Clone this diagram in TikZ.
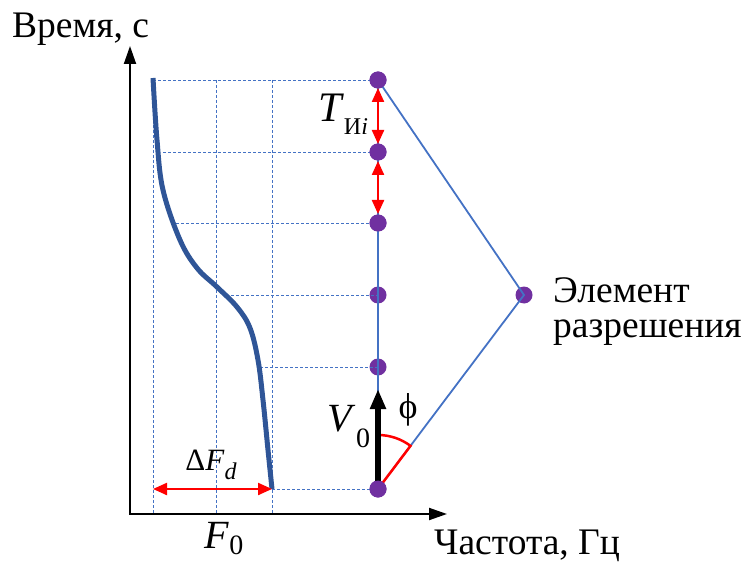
\documentclass[tikz,border=0pt]{standalone}
\usepackage{fontspec}
\setmainfont{Liberation Serif}
\usetikzlibrary{arrows.meta}
\definecolor{lblue}{HTML}{4472C4}
\definecolor{dblue}{HTML}{2F5597}
\definecolor{dotc}{HTML}{7030A0}
\begin{document}
\begin{tikzpicture}[x=1pt,y=-1pt,
  grid/.style={lblue, line width=0.7pt, dash pattern=on 3pt off 2pt},
  dotn/.style={circle, fill=dotc, inner sep=0pt, minimum size=17pt},
  redarr/.style={red, line width=2.2pt, {Triangle[length=14pt,width=12pt]}-{Triangle[length=14pt,width=12pt]}},
  lbl/.style={inner sep=0pt, font=\fontsize{37.5}{37.5}\selectfont},
  axis/.style={black, line width=2pt, -{Triangle[length=18pt,width=12pt]}}]
\useasboundingbox (0,0) rectangle (744,564);
% grid verticals
\coordinate (g1t) at (153,80); \coordinate (g1b) at (153,514);
\coordinate (g2t) at (216,80); \coordinate (g2b) at (216,514);
\coordinate (g3t) at (272,80); \coordinate (g3b) at (272,514);
\draw[grid] (g1t) -- (g1b);
\draw[grid] (g2t) -- (g2b);
\draw[grid] (g3t) -- (g3b);
% dots
\node[dotn] (d1) at (378,80) {};
\node[dotn] (d2) at (378,152) {};
\node[dotn] (d3) at (378,223) {};
\node[dotn] (d4) at (378,295) {};
\node[dotn] (d5) at (378,367) {};
\node[dotn] (d6) at (378,489) {};
\node[dotn] (de) at (524,295) {};
% curve anchor points
\coordinate (c1) at (153,80);
\coordinate (c2) at (163,152);
\coordinate (c3) at (176,223);
\coordinate (c4) at (231,295);
\coordinate (c5) at (260,367);
\coordinate (c6) at (272,489);
% horizontal grid
\draw[grid] (c1) -- (d1.center);
\draw[grid] (c2) -- (d2.center);
\draw[grid] (c3) -- (d3.center);
\draw[grid] (c4) -- (d4.center);
\draw[grid] (c5) -- (d5.center);
\draw[grid] (c6) -- (d6.center);
% axes
\coordinate (o) at (130,514);
\coordinate (ytip) at (130,46);
\coordinate (xtip) at (447,514);
\draw[axis] (o) -- (ytip);
\draw[axis] ([xshift=-1pt]o) -- (xtip);
% curve
\draw[dblue, line width=5pt, line cap=butt] plot[smooth, tension=0.6] coordinates {(153,78) (157,140) (163,190) (180,240) (197,268) (217,287) (237,307) (250,328) (258,360) (263,400) (268,450) (272,489)};
% blue lines
\draw[lblue, line width=1.8pt] (d1.center) -- (d6.center);
\draw[lblue, line width=1.8pt] (d1.center) -- (de.center) -- (d6.center);
% phi sector
\draw[red, line width=2.5pt] (d6.center) -- ++(-53.0:54) arc[start angle=-53, end angle=-90, radius=54];
% V0 arrow
\coordinate (vtip) at (378,389);
\draw[black, line width=5.5pt, -{Triangle[length=20pt,width=15pt]}] (d6.center) -- (vtip);
% dots redrawn on top
\node[dotn] at (d1) {};
\node[dotn] at (d2) {};
\node[dotn] at (d3) {};
\node[dotn] at (d6) {};
% red double arrows
\draw[redarr] ([yshift=-8pt]d1.center) -- ([yshift=8pt]d2.center);
\draw[redarr] ([yshift=-9pt]d2.center) -- ([yshift=9pt]d3.center);
\draw[redarr] (g1t |- c6) -- (c6);
% labels
\node[lbl, anchor=base west] (ty) at (12,38) {Время, с};
\node[lbl, anchor=base west] (tx) at (434,554) {Частота, Гц};
\node[lbl, anchor=west, align=left, font=\fontsize{37.5}{35}\selectfont] (te) at (553,312) {Элемент\\разрешения};
\node[inner sep=0pt, anchor=base, font=\fontsize{40}{40}\selectfont] (tf0) at (224,548) {\textit{F}\raisebox{-0.15em}{\fontsize{28}{28}\selectfont 0}};
\node[inner sep=0pt, anchor=base, font=\fontsize{31}{31}\selectfont] (tdf) at (211,470) {Δ\textit{F}\raisebox{-0.3em}{\fontsize{24}{24}\selectfont\textit{d}}};
\node[inner sep=0pt, anchor=base, font=\fontsize{42}{42}\selectfont] (tt) at (343,122) {\textit{T}\raisebox{-0.3em}{\fontsize{24}{24}\selectfont И\textit{i}}};
\node[inner sep=0pt, anchor=base, font=\fontsize{40}{40}\selectfont] (tv) at (349,431) {\textit{V}\raisebox{-0.4em}{\fontsize{28}{28}\selectfont 0}};
\node[inner sep=0pt, anchor=base, font=\fontsize{36}{36}\selectfont] (tphi) at (408,418) {ϕ};
\end{tikzpicture}
\end{document}
